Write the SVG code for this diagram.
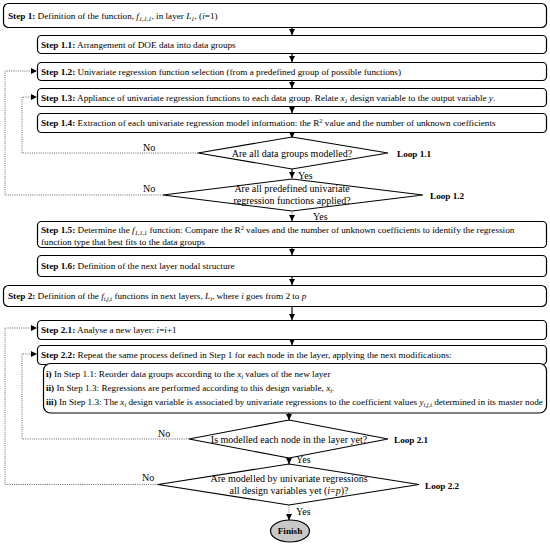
<svg xmlns="http://www.w3.org/2000/svg" width="550" height="547" viewBox="0 0 550 547">
<defs>
<marker id="ah" markerUnits="userSpaceOnUse" markerWidth="7" markerHeight="7" refX="6" refY="3" orient="auto"><path d="M0,0 L6,3 L0,6 z" fill="#000"/></marker>
<style>
.box{fill:#fff;stroke:#000;stroke-width:1.2}
.dia{fill:#fff;stroke:#000;stroke-width:1.1}
.t{font-family:"Liberation Serif","Times New Roman",serif;font-size:9.2px;fill:#000}
.d{font-size:10px}
.b{font-weight:bold}
.i{font-style:italic}
.s{font-size:6.3px;font-style:italic}
.flow{stroke:#000;stroke-width:1.2;fill:none}
.dot{stroke:#555;stroke-width:0.9;stroke-dasharray:1 1.2;fill:none}
</style>
</defs>
<rect width="550" height="547" fill="#fff"/>

<g id="connectors">
<line class="flow" x1="292" y1="28" x2="292" y2="35" marker-end="url(#ah)"/>
<line class="flow" x1="292" y1="54" x2="292" y2="62" marker-end="url(#ah)"/>
<line class="flow" x1="292" y1="81" x2="292" y2="88" marker-end="url(#ah)"/>
<line class="flow" x1="292" y1="107" x2="292" y2="113" marker-end="url(#ah)"/>
<line class="flow" x1="292" y1="133" x2="292" y2="138" marker-end="url(#ah)"/>
<line class="flow" x1="292" y1="168" x2="292" y2="178" marker-end="url(#ah)"/>
<line class="dot" x1="292" y1="210" x2="292" y2="216"/>
<line class="flow" x1="292" y1="216" x2="292" y2="221" marker-end="url(#ah)"/>
<line class="flow" x1="292" y1="248" x2="292" y2="255" marker-end="url(#ah)"/>
<line class="flow" x1="292" y1="277" x2="292" y2="285" marker-end="url(#ah)"/>
<line class="flow" x1="292" y1="307" x2="292" y2="320" marker-end="url(#ah)"/>
<line class="flow" x1="292" y1="340" x2="292" y2="345" marker-end="url(#ah)"/>
<line class="flow" x1="289" y1="413" x2="289" y2="420" marker-end="url(#ah)"/>
<line class="flow" x1="289" y1="458" x2="289" y2="464" marker-end="url(#ah)"/>
<line class="dot" x1="289" y1="505" x2="289" y2="514"/>
<line class="flow" x1="289" y1="514" x2="289" y2="520" marker-end="url(#ah)"/>
<path class="dot" d="M198,153 H22 V97 H31"/>
<path class="dot" d="M163,195 H5 V71 H31"/>
<path class="dot" d="M189,439 H22 V354 H31"/>
<path class="dot" d="M158,484.5 H5 V328 H31"/>
<path d="M31,94 L37,97 L31,100 z M31,68 L37,71 L31,74 z M31,351 L37,354 L31,357 z M31,325 L37,328 L31,331 z" fill="#000"/>
<text class="t d" x="143" y="151">No</text>
<text class="t d" x="143" y="192">No</text>
<text class="t d" x="158" y="437">No</text>
<text class="t d" x="142" y="481">No</text>
<text class="t d" x="298" y="179">Yes</text>
<text class="t d" x="313" y="220">Yes</text>
<text class="t d" x="296" y="463">Yes</text>
<text class="t d" x="296" y="515">Yes</text>
</g>

<g id="step1">
<rect class="box" x="3.5" y="3.5" width="543" height="24" rx="5"/>
<text class="t" x="8" y="19"><tspan class="b">Step 1:</tspan> Definition of the function, <tspan class="i">f</tspan><tspan class="s" dy="2">1,1,1</tspan><tspan dy="-2">, in layer </tspan><tspan class="i">L</tspan><tspan class="s" dy="2">1</tspan><tspan dy="-2">, (</tspan><tspan class="i">i</tspan>=1)</text>
</g>
<g id="step1_1">
<rect class="box" x="37.5" y="35.5" width="509" height="18" rx="4"/>
<text class="t" x="41" y="47.8"><tspan class="b">Step 1.1:</tspan> Arrangement of DOE data into data groups</text>
</g>
<g id="step1_2">
<rect class="box" x="37.5" y="62.5" width="509" height="18" rx="4"/>
<text class="t" x="41" y="74.8"><tspan class="b">Step 1.2:</tspan> Univariate regression function selection (from a predefined group of possible functions)</text>
</g>
<g id="step1_3">
<rect class="box" x="37.5" y="88.5" width="509" height="18" rx="4"/>
<text class="t" x="41" y="100.8"><tspan class="b">Step 1.3:</tspan> Appliance of univariate regression functions to each data group. Relate <tspan class="i">x</tspan><tspan class="s" dy="2">1</tspan><tspan dy="-2"> design variable to the output variable </tspan><tspan class="i">y</tspan>.</text>
</g>
<g id="step1_4">
<rect class="box" x="37.5" y="113.5" width="509" height="19" rx="4"/>
<text class="t" x="41" y="126.3"><tspan class="b">Step 1.4:</tspan> Extraction of each univariate regression model information: the R<tspan font-size="6.3" dy="-3">2</tspan><tspan dy="3"> value and the number of unknown coefficients</tspan></text>
</g>
<g id="loop1_1">
<polygon class="dia" points="292,137 388,153 292,169 198,153"/>
<text class="t d" x="292" y="156.5" text-anchor="middle">Are all data groups modelled?</text>
<text class="t b" x="397" y="157">Loop 1.1</text>
</g>
<g id="loop1_2">
<polygon class="dia" points="292,179 423,195 292,211 163,195"/>
<text class="t d" x="292" y="191.5" text-anchor="middle">Are all predefined univariate</text>
<text class="t d" x="292" y="203.5" text-anchor="middle">regression functions applied?</text>
<text class="t b" x="430" y="199">Loop 1.2</text>
</g>
<g id="step1_5">
<rect class="box" x="37.5" y="221.5" width="509" height="26" rx="4"/>
<text class="t" x="41" y="233"><tspan class="b">Step 1.5:</tspan> Determine the <tspan class="i">f</tspan><tspan class="s" dy="2">1,1,1</tspan><tspan dy="-2"> function: Compare the R</tspan><tspan font-size="6.3" dy="-3">2</tspan><tspan dy="3"> values and the number of unknown coefficients to identify the regression</tspan></text>
<text class="t" x="41" y="244.5">function type that best fits to the data groups</text>
</g>
<g id="step1_6">
<rect class="box" x="37.5" y="255.5" width="509" height="21" rx="4"/>
<text class="t" x="41" y="269"><tspan class="b">Step 1.6:</tspan> Definition of the next layer nodal structure</text>
</g>
<g id="step2">
<rect class="box" x="3.5" y="285.5" width="543" height="21" rx="5"/>
<text class="t" x="8" y="299"><tspan class="b">Step 2:</tspan> Definition of the <tspan class="i">f</tspan><tspan class="s" dy="2">i,j,t</tspan><tspan dy="-2"> functions in next layers, </tspan><tspan class="i">L</tspan><tspan class="s" dy="2">i</tspan><tspan dy="-2">, where </tspan><tspan class="i">i</tspan> goes from 2 to <tspan class="i">p</tspan></text>
</g>
<g id="step2_1">
<rect class="box" x="37.5" y="320.5" width="509" height="19" rx="4"/>
<text class="t" x="41" y="333"><tspan class="b">Step 2.1:</tspan> Analyse a new layer: <tspan class="i">i</tspan>=<tspan class="i">i</tspan>+1</text>
</g>
<g id="step2_2">
<rect class="box" x="37.5" y="345.5" width="509" height="19" rx="4"/>
<text class="t" x="41" y="358"><tspan class="b">Step 2.2:</tspan> Repeat the same process defined in Step 1 for each node in the layer, applying the next modifications:</text>
<rect class="box" x="43.5" y="363.5" width="503" height="49.5" rx="7"/>
<text class="t" x="46" y="376.5"><tspan class="b">i)</tspan> In Step 1.1: Reorder data groups according to the <tspan class="i">x</tspan><tspan class="s" dy="2">i</tspan><tspan dy="-2"> values of the new layer</tspan></text>
<text class="t" x="46" y="390.5"><tspan class="b">ii)</tspan> In Step 1.3: Regressions are performed according to this design variable, <tspan class="i">x</tspan><tspan class="s" dy="2">i</tspan><tspan dy="-2">.</tspan></text>
<text class="t" x="46" y="404.5"><tspan class="b">iii)</tspan> In Step 1.3: The <tspan class="i">x</tspan><tspan class="s" dy="2">i</tspan><tspan dy="-2"> design variable is associated by univariate regressions to the coefficient values </tspan><tspan class="i">y</tspan><tspan class="s" dy="2">i,j,t</tspan><tspan dy="-2"> determined in its master node</tspan></text>
</g>
<g id="loop2_1">
<polygon class="dia" points="289,420 388,439 289,458 189,439"/>
<text class="t d" x="289" y="442.5" text-anchor="middle">Is modelled each node in the layer yet?</text>
<text class="t b" x="394" y="443">Loop 2.1</text>
</g>
<g id="loop2_2">
<polygon class="dia" points="289,464 419,484.5 289,505 158,484.5"/>
<text class="t d" x="289" y="481.5" text-anchor="middle">Are modelled by univariate regressions</text>
<text class="t d" x="289" y="493.5" text-anchor="middle">all design variables yet (<tspan class="i">i</tspan>=<tspan class="i">p</tspan>)?</text>
<text class="t b" x="425" y="489">Loop 2.2</text>
</g>
<g id="finish">
<ellipse cx="290" cy="531" rx="19.5" ry="11" fill="#c8c8c8" stroke="#000" stroke-width="1.2"/>
<text class="t b" x="290" y="534" text-anchor="middle">Finish</text>
</g>
</svg>
